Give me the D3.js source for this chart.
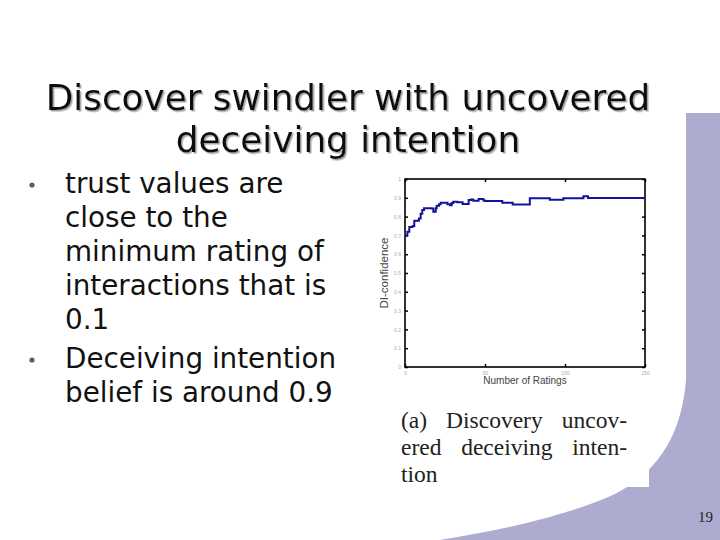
<!DOCTYPE html>
<html>
<head>
<meta charset="utf-8">
<script src="https://cdn.jsdelivr.net/npm/d3@7"></script>
<style>
  body { margin: 0; background: #fff; }
  svg { display: block; }
</style>
</head>
<body>
<svg width="720" height="540"></svg>
<script>
// slide text
const titleLines = ['Discover swindler with uncovered', 'deceiving intention'];
const bullets = [
    ['trust values are', 'close to the', 'minimum rating of', 'interactions that is', '0.1'],
    ['Deceiving intention', 'belief is around 0.9']
];
const captionLines = ['(a) Discovery uncov-', 'ered deceiving inten-', 'tion'];

// chart data (DI-confidence vs number of ratings, step line)
const ratings = [0, 1.5, 2.7, 4.8, 5.8, 8.7, 9.8, 10.8, 11.9, 16.7, 17.7, 19.2, 19.8, 21.3, 22.3, 26.5,
    28.1, 29.2, 30.2, 32.7, 36, 39.8, 41.3, 42.7, 46, 47.5, 49, 50, 60.8, 67.3, 78, 90.5, 99, 111.5, 114.4, 150];
const confidence = [0.70, 0.72, 0.745, 0.75, 0.778, 0.79, 0.815, 0.835, 0.845, 0.843, 0.826, 0.845, 0.858, 0.866,
    0.874, 0.866, 0.861, 0.872, 0.879, 0.876, 0.867, 0.888, 0.891, 0.884, 0.893, 0.893, 0.886, 0.883, 0.874,
    0.865, 0.897, 0.89, 0.897, 0.908, 0.899, 0.899];
const xTicks = [0, 50, 100, 150];
const yTicks = [0, 0.1, 0.2, 0.3, 0.4, 0.5, 0.6, 0.7, 0.8, 0.9, 1];

const svg = d3.select('svg');
const lavender = '#adacd0';

// shadow filter for the title
svg.append('defs').append('filter')
    .attr('id', 'shadow')
    .append('feDropShadow')
    .attr('dx', 1.5).attr('dy', 1.5).attr('stdDeviation', 0.3)
    .attr('flood-color', '#999').attr('flood-opacity', 0.9);

// background decoration
svg.append('path')
    .attr('d', 'M686,113 H720 V540 H440 C520,527 575,512 615,494 C662,470 682,430 686,380 Z')
    .attr('fill', lavender);
svg.append('rect')
    .attr('x', 392).attr('y', 170).attr('width', 257).attr('height', 317)
    .attr('fill', '#fff');

// title
const title = svg.append('g')
    .attr('filter', 'url(#shadow)')
    .style('font-family', '"DejaVu Sans", Verdana, sans-serif')
    .style('font-size', '35.8px')
    .attr('text-anchor', 'middle')
    .attr('fill', '#111');
titleLines.forEach((t, i) => {
    title.append('text')
        .attr('x', 348)
        .attr('y', 110 + i * 42)
        .text(t);
});

// bullets
const body = svg.append('g')
    .style('font-family', '"DejaVu Sans", Verdana, sans-serif')
    .style('font-size', '27.8px')
    .attr('fill', '#111');
let lineY = 193;
bullets.forEach(lines => {
    body.append('circle')
        .attr('cx', 32).attr('cy', lineY - 8).attr('r', 2.6)
        .attr('fill', '#5a5a7a');
    lines.forEach(t => {
        body.append('text').attr('x', 65).attr('y', lineY).text(t);
        lineY += 34;
    });
    lineY += 5;
});

// chart
const x = d3.scaleLinear().domain([0, 150]).range([405, 645]);
const y = d3.scaleLinear().domain([0, 1]).range([367, 179]);
const chart = svg.append('g');

chart.append('g')
    .attr('transform', `translate(0,${y(0)})`)
    .call(d3.axisBottom(x).tickValues(xTicks).tickSize(-3).tickPadding(4).tickFormat(d3.format('d')))
    .call(g => g.select('.domain').remove())
    .call(g => g.selectAll('text').attr('fill', '#aaa').style('font-size', '5px'));
chart.append('g')
    .attr('transform', `translate(${x(0)},0)`)
    .call(d3.axisLeft(y).tickValues(yTicks).tickSize(-3).tickPadding(4).tickFormat(d => d === 0 || d === 1 ? d : d.toFixed(1)))
    .call(g => g.select('.domain').remove())
    .call(g => g.selectAll('text').attr('fill', '#aaa').style('font-size', '5px'));
chart.append('g')
    .attr('transform', `translate(${x(150)},0)`)
    .call(d3.axisRight(y).tickValues(yTicks).tickSize(-3).tickFormat(''))
    .call(g => g.select('.domain').remove());
chart.append('g')
    .attr('transform', `translate(0,${y(1)})`)
    .call(d3.axisTop(x).tickValues(xTicks).tickSize(-3).tickFormat(''))
    .call(g => g.select('.domain').remove());
chart.selectAll('.tick line').attr('stroke', '#000').attr('stroke-width', 1.5);

chart.append('rect')
    .attr('x', x(0)).attr('y', y(1))
    .attr('width', x(150) - x(0)).attr('height', y(0) - y(1))
    .attr('fill', 'none').attr('stroke', '#000').attr('stroke-width', 1.6);

const line = d3.line()
    .x((d, i) => x(ratings[i]))
    .y(d => y(d))
    .curve(d3.curveStepAfter);
chart.append('path')
    .datum(confidence)
    .attr('d', line)
    .attr('fill', 'none')
    .attr('stroke', '#12129a')
    .attr('stroke-width', 2);

chart.append('text')
    .attr('x', 525).attr('y', 384)
    .attr('text-anchor', 'middle')
    .attr('fill', '#444')
    .style('font-family', '"Liberation Sans", Arial, sans-serif')
    .style('font-size', '10px')
    .text('Number of Ratings');
chart.append('text')
    .attr('transform', `translate(388,${y(0.5)}) rotate(-90)`)
    .attr('text-anchor', 'middle')
    .attr('fill', '#444')
    .style('font-family', '"Liberation Sans", Arial, sans-serif')
    .style('font-size', '11.5px')
    .text('DI-confidence');

// caption, justified by spreading the words
const caption = svg.append('g')
    .style('font-family', '"Liberation Serif", "DejaVu Serif", serif')
    .style('font-size', '23.5px')
    .attr('fill', '#222');
const capLeft = 401, capRight = 627;
captionLines.forEach((t, i) => {
    const words = t.split(' ');
    const nodes = words.map(w => caption.append('text')
        .attr('y', 428 + i * 27)
        .text(w));
    const widths = nodes.map(n => n.node().getComputedTextLength());
    const gap = words.length > 1 && i < captionLines.length - 1
        ? (capRight - capLeft - d3.sum(widths)) / (words.length - 1)
        : 6;
    let cx = capLeft;
    nodes.forEach((n, k) => {
        n.attr('x', cx);
        cx += widths[k] + gap;
    });
});

// slide number
svg.append('text')
    .attr('x', 713).attr('y', 522)
    .attr('text-anchor', 'end')
    .attr('fill', '#222')
    .style('font-family', '"Liberation Serif", serif')
    .style('font-size', '15px')
    .text('19');
</script>
</body>
</html>
